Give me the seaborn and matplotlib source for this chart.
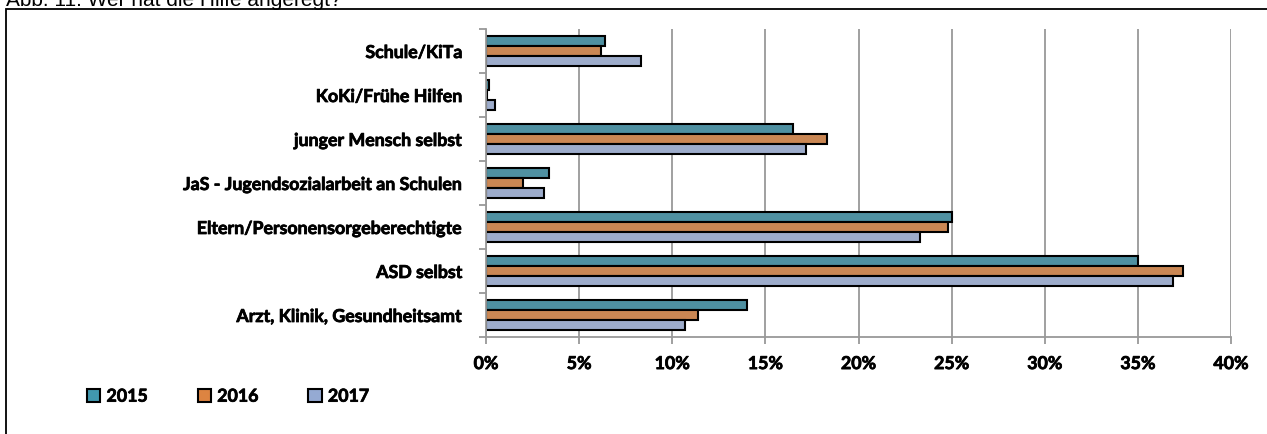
import pandas as pd
import numpy as np
import matplotlib.pyplot as plt
import matplotlib.patheffects as pe
import seaborn as sns
from matplotlib.patches import Rectangle
from matplotlib.ticker import FixedLocator, PercentFormatter

# ==============================
# DATA
# ==============================
categories = ['Schule/KiTa', 'KoKi/Frühe Hilfen', 'junger Mensch selbst',
              'JaS - Jugendsozialarbeit an Schulen',
              'Eltern/Personensorgeberechtigte', 'ASD selbst',
              'Arzt, Klinik, Gesundheitsamt']
years = ['2015', '2016', '2017']
v2015 = [6.4, 0.15, 16.5, 3.4, 25.0, 35.0, 14.0]
v2016 = [6.2, 0.05, 18.3, 2.0, 24.8, 37.4, 11.4]
v2017 = [8.3, 0.5, 17.2, 3.1, 23.3, 36.9, 10.7]
colors = ['#4198AF', '#DD8441', '#95AAD3']

df = pd.DataFrame({'Kategorie': categories * 3,
                   'Jahr': [y for y in years for _ in categories],
                   'Anteil': v2015 + v2016 + v2017})

# ==============================
# PLOT
# ==============================
sns.set_theme(style="white")
plt.rcParams['font.family'] = ['Lato', 'DejaVu Sans']
plt.rcParams['text.color'] = 'black'
plt.rcParams['xtick.color'] = 'black'
plt.rcParams['ytick.color'] = 'black'
WEIGHT = 'bold'
SIZE = 12.8
thick = [pe.withStroke(linewidth=0.55, foreground='black')]

fig = plt.figure(figsize=(12.67, 4.35), dpi=100)
ax = fig.add_axes([0.3836, 0.223, 0.588, 0.708])

sns.barplot(data=df, y='Kategorie', x='Anteil', hue='Jahr', order=categories,
            hue_order=years, palette=colors, width=0.66, orient='h',
            edgecolor='black', linewidth=1.5, ax=ax, legend=True)

ax.set_xlim(0, 40)
ax.set_ylim(len(categories) - 0.5, -0.5)
ax.set_xticks(np.arange(0, 41, 5))
ax.xaxis.set_major_formatter(PercentFormatter(decimals=0))
ax.grid(axis='x', color='#999999', linewidth=1.3)
ax.set_axisbelow(True)
ax.set_xlabel('')
ax.set_ylabel('')

for s in ['top', 'right']:
    ax.spines[s].set_visible(False)
for s in ['left', 'bottom']:
    ax.spines[s].set_color('#999999')
    ax.spines[s].set_linewidth(1.3)

ax.yaxis.set_minor_locator(FixedLocator(np.arange(-0.5, len(categories), 1)))
ax.tick_params(axis='y', which='major', length=0, pad=17, labelsize=SIZE)
ax.tick_params(axis='y', which='minor', left=True, length=5, width=1.3,
               color='#999999')
ax.tick_params(axis='x', bottom=True, length=5, width=1.3, color='#999999',
               pad=8, labelsize=SIZE)
for lab in ax.get_xticklabels() + ax.get_yticklabels():
    lab.set_fontweight(WEIGHT)
    lab.set_path_effects(thick)

ax.get_legend().remove()
handles = [Rectangle((0, 0), 1, 1, facecolor=c, edgecolor='black', linewidth=1.5)
           for c in colors]
leg = fig.legend(handles, years, loc='center left', bbox_to_anchor=(0.056, 0.087),
                 ncol=3, frameon=False, handlelength=0.75, handleheight=0.75,
                 handletextpad=0.35, columnspacing=2.8,
                 prop={'weight': WEIGHT, 'size': SIZE})
for t in leg.get_texts():
    t.set_path_effects(thick)

# outer frame and caption (cut at the top in the reference)
fig.patches.append(Rectangle((6 / 1267, -0.05), 1.1, 1 - 10 / 435 + 0.05,
                             transform=fig.transFigure, fill=False,
                             edgecolor='black', linewidth=1.3))
fig.text(6 / 1267, 1 - 6 / 435, 'Abb. 11: Wer hat die Hilfe angeregt?',
         family='Liberation Sans', fontsize=15, va='baseline', ha='left')

fig.savefig('out.png', dpi=100)
